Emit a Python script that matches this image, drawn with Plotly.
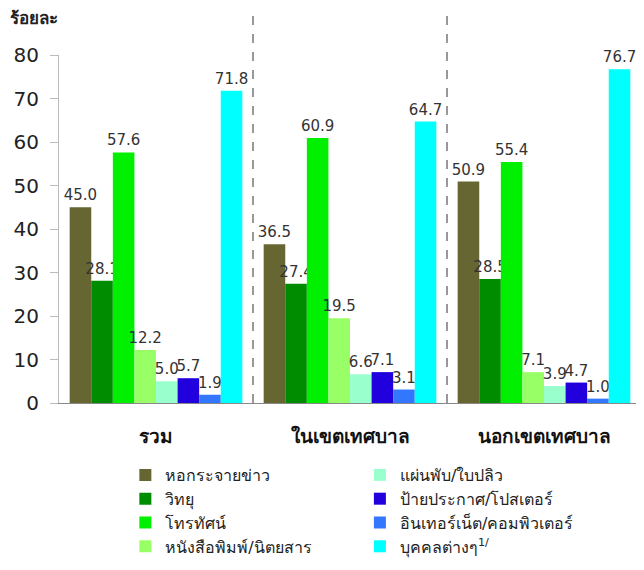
import plotly.graph_objects as go

categories = ["รวม", "ในเขตเทศบาล", "นอกเขตเทศบาล"]
series_names = ["หอกระจายข่าว", "วิทยุ", "โทรทัศน์", "หนังสือพิมพ์/นิตยสาร",
                "แผ่นพับ/ใบปลิว", "ป้ายประกาศ/โปสเตอร์", "อินเทอร์เน็ต/คอมพิวเตอร์",
                "บุคคลต่างๆ<sup>1/</sup>"]
values = [
    [45.0, 36.5, 50.9],
    [28.1, 27.4, 28.5],
    [57.6, 60.9, 55.4],
    [12.2, 19.5, 7.1],
    [5.0, 6.6, 3.9],
    [5.7, 7.1, 4.7],
    [1.9, 3.1, 1.0],
    [71.8, 64.7, 76.7],
]
colors = ["#666633", "#008C00", "#00F000", "#99FF66",
          "#99FFCC", "#2200DD", "#3377FF", "#00FFFF"]
y_ticks = [0, 10, 20, 30, 40, 50, 60, 70, 80]

FONT = "Tahoma, Verdana, DejaVu Sans, sans-serif"

fig = go.Figure()
for i, (name, vals, col) in enumerate(zip(series_names, values, colors)):
    fig.add_trace(go.Bar(
        x=categories, y=vals, name=name,
        marker=dict(color=col, line=dict(width=0)),
        text=[f"{v:.1f}" for v in vals], textposition="outside",
        textfont=dict(size=15, color="#333333", family=FONT),
        cliponaxis=False,
        legend="legend" if i < 4 else "legend2",
        legendgroup=f"g{i}",
    ))

for xb in [0.5, 1.5]:
    fig.add_shape(type="line", xref="x", yref="paper", x0=xb, x1=xb, y0=0, y1=1.115,
                  line=dict(color="#777777", width=1.5, dash="dash"))

fig.add_annotation(text="<b>ร้อยละ</b>", xref="paper", yref="paper",
                   x=-0.088, y=1.106, xanchor="left", yanchor="middle", showarrow=False,
                   font=dict(size=17, color="#222222", family=FONT))

legend_common = dict(orientation="v", yanchor="top", y=-0.158, xanchor="left",
                     font=dict(size=16, color="#222222", family=FONT),
                     bgcolor="rgba(0,0,0,0)", tracegroupgap=12, traceorder="normal")

fig.update_layout(
    width=644, height=570,
    margin=dict(l=51, r=11, t=47, b=175, autoexpand=False),
    plot_bgcolor="white", paper_bgcolor="white",
    barmode="group", bargap=0.11, bargroupgap=0,
    font=dict(family=FONT),
    uniformtext=dict(minsize=15, mode="show"),
    legend=dict(x=0.114, **legend_common),
    legend2=dict(x=0.517, **legend_common),
    showlegend=True,
)
fig.update_xaxes(range=[-0.5, 2.5], showline=True, linecolor="#888888", linewidth=1,
                 ticks="", ticklabelstandoff=16,
                 tickfont=dict(size=19, color="#111111", family=FONT),
                 tickprefix="<b>", ticksuffix="</b>")
fig.update_yaxes(range=[0, 80], tickvals=y_ticks, showgrid=False, zeroline=False,
                 showline=True, linecolor="#BBBBBB", linewidth=1,
                 ticks="outside", ticklen=8, tickcolor="#BBBBBB", ticklabelstandoff=7,
                 tickfont=dict(size=20, color="#222222", family=FONT))

fig.write_html("out.html")
